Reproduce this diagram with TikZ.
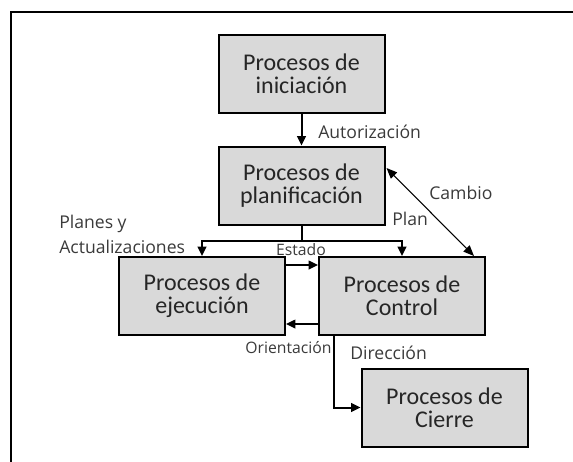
\documentclass[tikz,border=0pt]{standalone}
\usepackage{fontspec}
\setmainfont{Carlito}
\newfontfamily\boxfont{Carlito}
\newfontfamily\lblfont{Open Sans}
\usetikzlibrary{arrows.meta,calc}
\definecolor{boxgray}{HTML}{D9D9D9}
\definecolor{txt}{HTML}{262626}
\definecolor{lbl}{HTML}{3A3A3A}
\begin{document}
\begin{tikzpicture}[x=0.75pt,y=-0.75pt,
  procbox/.style={draw=black,line width=1.5pt,fill=boxgray,minimum width=124.5pt,minimum height=58.5pt,
    align=center,inner sep=0pt,text=txt,font=\boxfont\fontsize{18}{17.5}\selectfont},
  lab/.style={inner sep=0pt,text=lbl,font=\lblfont\fontsize{13.2}{16}\selectfont},
  smalllab/.style={inner sep=0pt,text=lbl,font=\lblfont\fontsize{11.8}{14}\selectfont},
  conn/.style={line width=1.5pt,-{Triangle[length=7pt,width=6.5pt]}},
  thinconn/.style={line width=1.1pt,-{Triangle[length=7pt,width=6.5pt]}},
  cambioconn/.style={line width=0.8pt,{Triangle[length=8pt,width=6.5pt]}-{Triangle[length=8pt,width=6.5pt]}}]
\useasboundingbox (0,0) rectangle (573,461);
% outer frame (only top and left edges visible)
\draw[line width=1.5pt] (11,463) -- (11,11.5) -- (575,11.5);

\node[procbox] (ini) at (301.5,74) {Procesos de\\iniciación};
\node[procbox] (plan) at (301.5,185.5) {Procesos de\\planificación};
\node[procbox] (ejec) at (202,296) {Procesos de\\ejecución};
\node[procbox] (ctrl) at (402,296) {Procesos de\\Control};
\node[procbox] (cierre) at (444.5,407.5) {Procesos de\\Cierre};

\coordinate (j) at (301.5,241);

\draw[conn] (ini.south) -- (plan.north);
\draw[line width=1.5pt] (plan.south) -- (j);
\draw[conn] (j) -| (ejec.north);
\draw[conn] (j) -| (ctrl.north);
\draw[thinconn] ($(ejec.east)+(0,-31)$) -- ($(ctrl.west)+(0,-31)$);
\draw[thinconn] ($(ctrl.west)+(0,28)$) -- ($(ejec.east)+(0,28)$);
\draw[conn] ($(ctrl.south west)+(16,0)$) |- (cierre.west);
\draw[cambioconn] ($(plan.east)+(1,-17.5)$) -- ($(ctrl.north east)+(-12,0)$);

\node[lab,anchor=west] (lauto) at (318,132) {Autorización};
\node[lab,anchor=west] (lcambio) at (429,193) {Cambio};
\node[lab,anchor=west] (lplan) at (392,219) {Plan};
\node[lab,anchor=west,align=left,font=\lblfont\fontsize{13.2}{18.75}\selectfont] (lplanes) at (59,234.5) {Planes y\\Actualizaciones};
\node[smalllab] (lestado) at (301,250) {Estado};
\node[smalllab] (lorient) at (288.5,348) {Orientación};
\node[lab,anchor=west] (ldir) at (350,353) {Dirección};
\end{tikzpicture}
\end{document}
